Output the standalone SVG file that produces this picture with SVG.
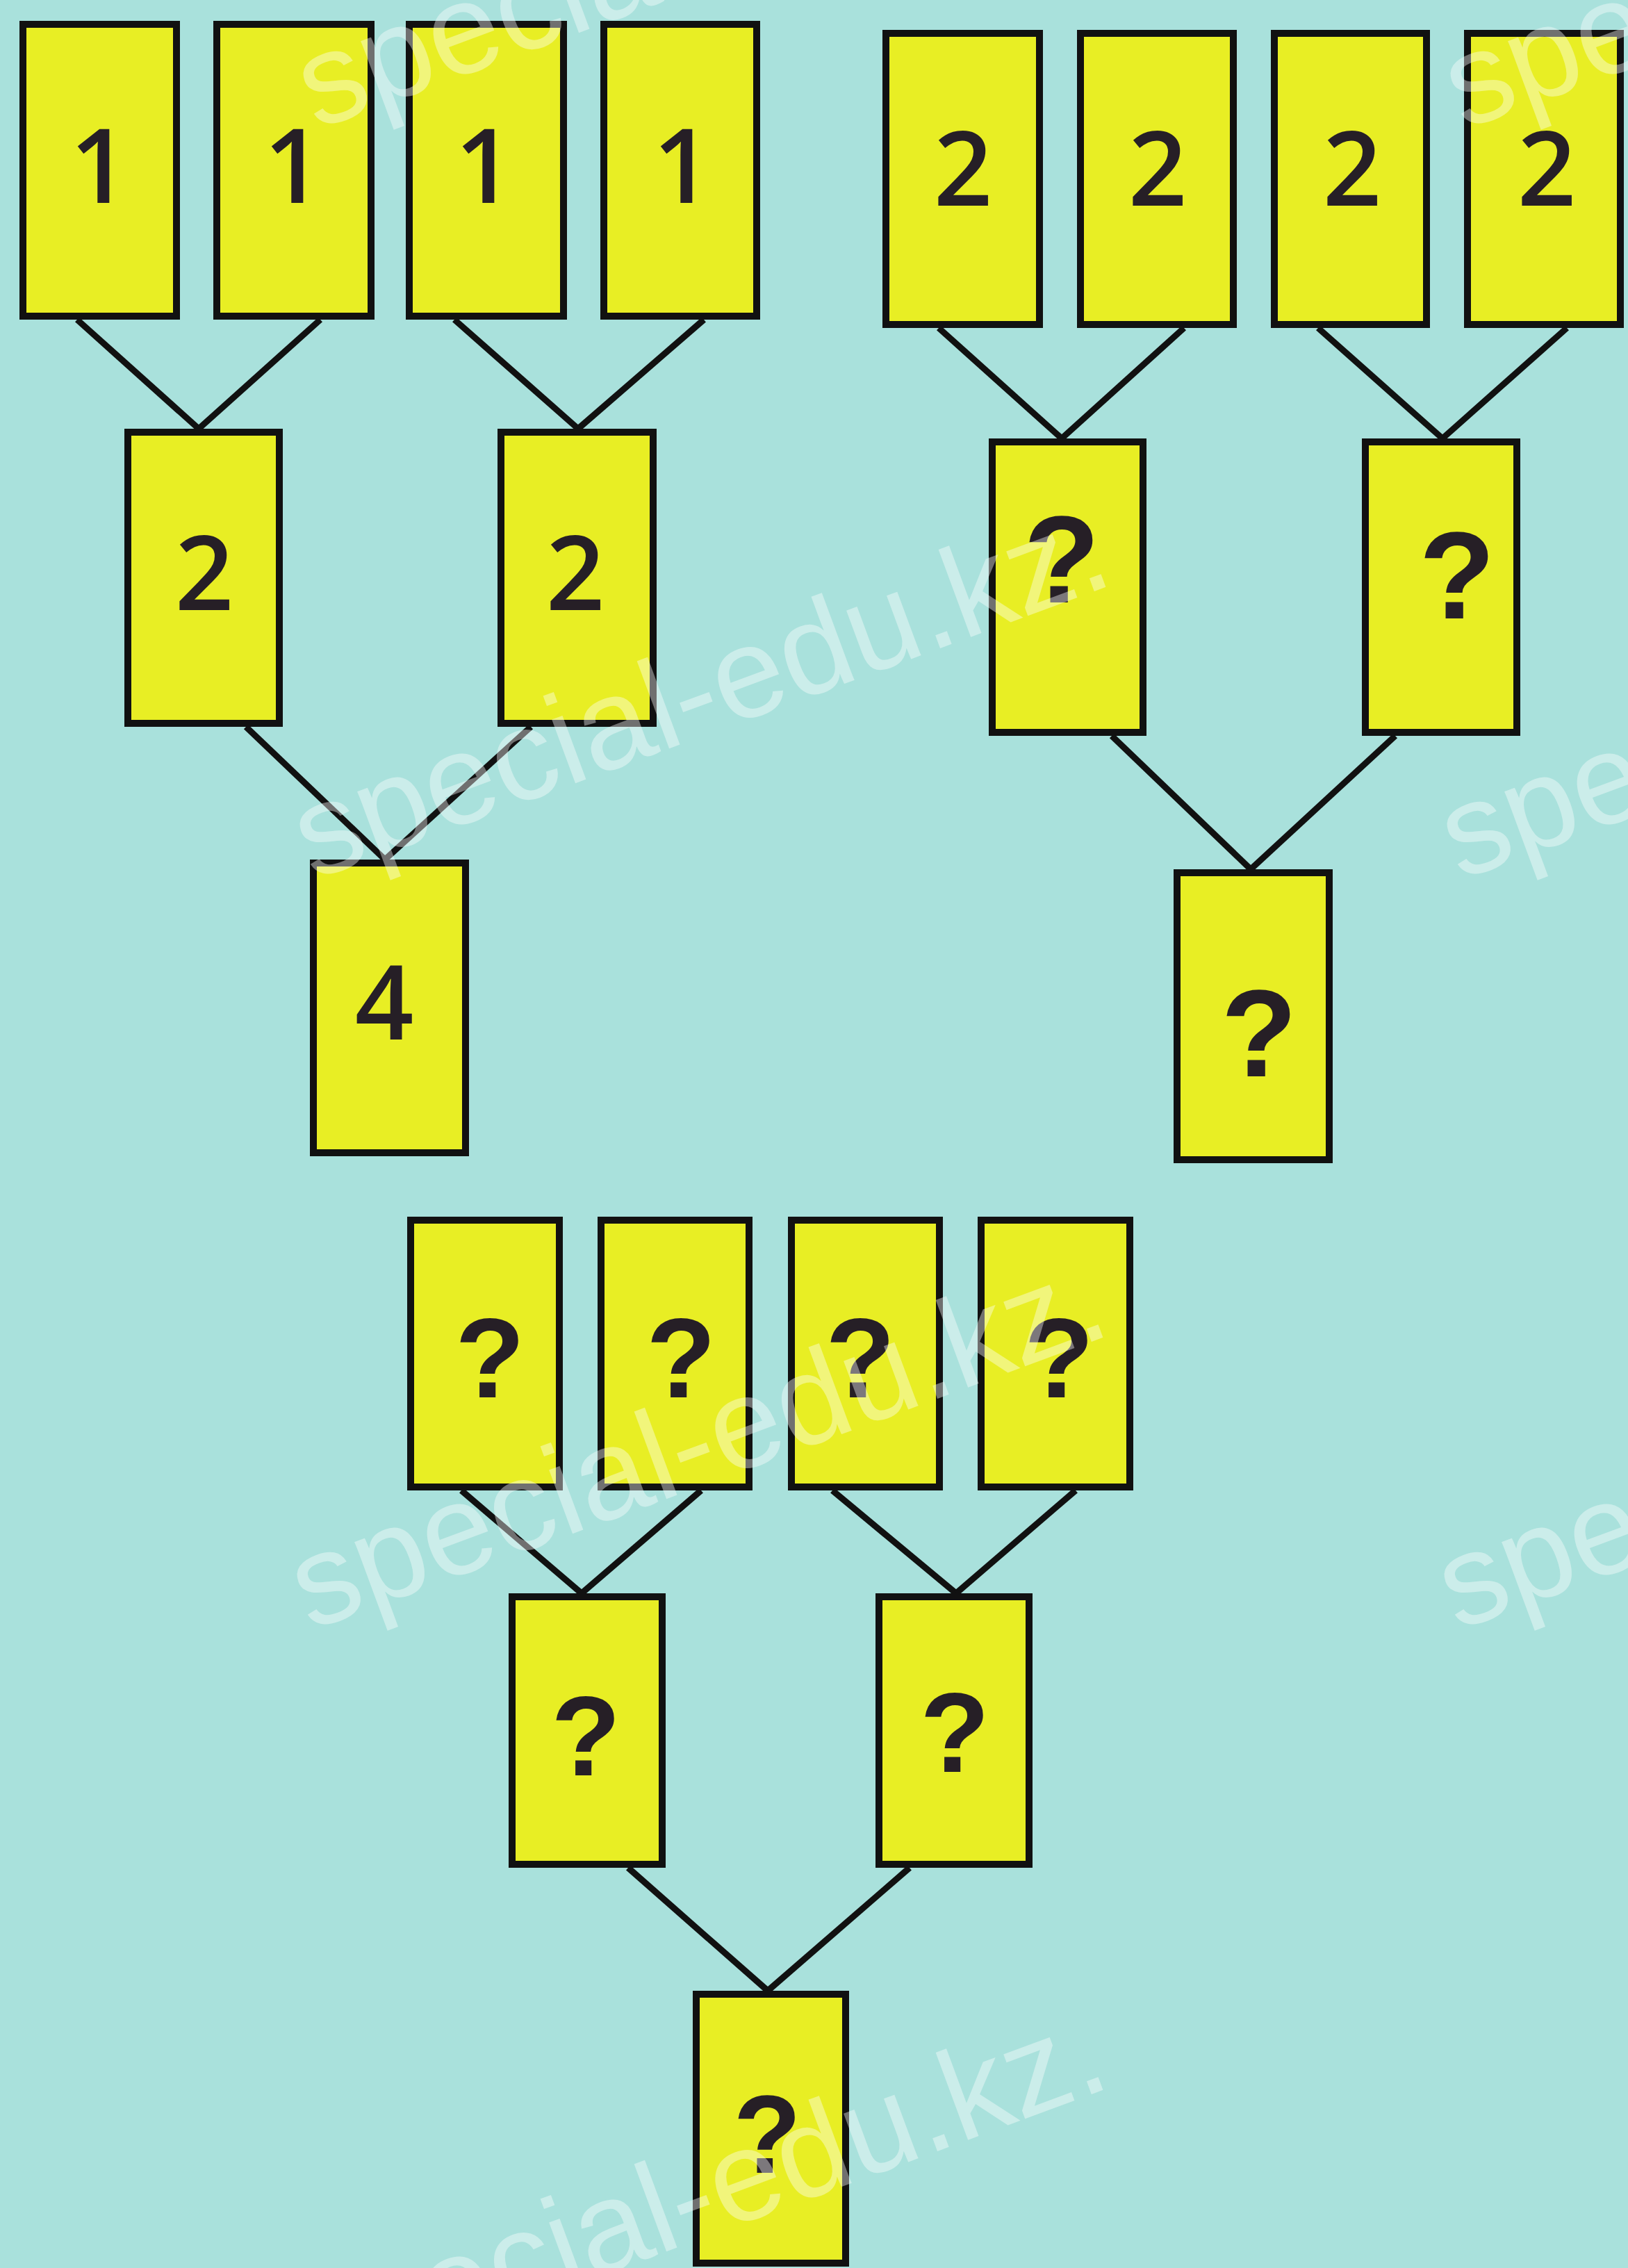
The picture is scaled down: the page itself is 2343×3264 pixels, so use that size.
<svg xmlns="http://www.w3.org/2000/svg" width="2343" height="3264" viewBox="0 0 2343 3264">
<style>
.bg{fill:#a9e1dc}
.box{fill:#e8ee24;stroke:#111;stroke-width:10}
.ln{stroke:#111;stroke-width:9;fill:none;stroke-linecap:butt}
.d{font-family:"Open Sans","Noto Sans",sans-serif;font-weight:600;font-size:148px;fill:#261f26;text-anchor:middle}
.q{font-family:"Liberation Sans",Arial,sans-serif;font-weight:700;fill:#261f26;text-anchor:middle}
.wm{font-family:"Liberation Sans",Arial,sans-serif;font-size:185px;fill:#ffffff;fill-opacity:0.4}
</style>
<rect class="bg" x="0" y="0" width="2343" height="3264"/>
<g id="connectors">
<line class="ln" x1="111" y1="460" x2="286" y2="617"/>
<line class="ln" x1="461" y1="460" x2="286" y2="617"/>
<line class="ln" x1="654" y1="460" x2="832" y2="617"/>
<line class="ln" x1="1013" y1="460" x2="832" y2="617"/>
<line class="ln" x1="354" y1="1046" x2="554" y2="1237"/>
<line class="ln" x1="764" y1="1046" x2="554" y2="1237"/>
<line class="ln" x1="1351" y1="472" x2="1528" y2="631"/>
<line class="ln" x1="1704" y1="472" x2="1528" y2="631"/>
<line class="ln" x1="1897" y1="472" x2="2076" y2="631"/>
<line class="ln" x1="2255" y1="472" x2="2076" y2="631"/>
<line class="ln" x1="1600" y1="1059" x2="1800" y2="1251"/>
<line class="ln" x1="2008" y1="1059" x2="1800" y2="1251"/>
<line class="ln" x1="664" y1="2145" x2="837" y2="2293"/>
<line class="ln" x1="1009" y1="2145" x2="837" y2="2293"/>
<line class="ln" x1="1198" y1="2145" x2="1376" y2="2293"/>
<line class="ln" x1="1548" y1="2145" x2="1376" y2="2293"/>
<line class="ln" x1="904" y1="2688" x2="1105" y2="2865"/>
<line class="ln" x1="1309" y1="2688" x2="1105" y2="2865"/>
</g>
<g id="A1"><rect class="box" x="33" y="35" width="221" height="420"/><text class="d" x="143" y="292">1</text></g>
<g id="A2"><rect class="box" x="312" y="35" width="222" height="420"/><text class="d" x="422" y="292">1</text></g>
<g id="A3"><rect class="box" x="589" y="35" width="222" height="420"/><text class="d" x="697" y="292">1</text></g>
<g id="A4"><rect class="box" x="869" y="35" width="220" height="420"/><text class="d" x="982" y="292">1</text></g>
<g id="B1"><rect class="box" x="184" y="622" width="218" height="419"/><text class="d" x="294" y="878">2</text></g>
<g id="B2"><rect class="box" x="721" y="622" width="219" height="419"/><text class="d" x="828" y="878">2</text></g>
<g id="C"><rect class="box" x="451" y="1242" width="219" height="417"/><text class="d" x="553" y="1496">4</text></g>
<g id="D1"><rect class="box" x="1275" y="48" width="221" height="419"/><text class="d" x="1386" y="296">2</text></g>
<g id="D2"><rect class="box" x="1555" y="48" width="220" height="419"/><text class="d" x="1666" y="296">2</text></g>
<g id="D3"><rect class="box" x="1834" y="48" width="219" height="419"/><text class="d" x="1946" y="296">2</text></g>
<g id="D4"><rect class="box" x="2112" y="48" width="220" height="419"/><text class="d" x="2226" y="296">2</text></g>
<g id="E1"><rect class="box" x="1428" y="636" width="217" height="418"/><text class="q" font-size="179" x="1528" y="867">?</text></g>
<g id="E2"><rect class="box" x="1965" y="636" width="218" height="418"/><text class="q" font-size="179" x="2097" y="890">?</text></g>
<g id="F"><rect class="box" x="1694" y="1256" width="219" height="413"/><text class="q" font-size="179" x="1812" y="1549">?</text></g>
<g id="G1"><rect class="box" x="591" y="1756" width="214" height="384"/><text class="q" font-size="164" x="705" y="2011">?</text></g>
<g id="G2"><rect class="box" x="865" y="1756" width="213" height="384"/><text class="q" font-size="164" x="980" y="2011">?</text></g>
<g id="G3"><rect class="box" x="1139" y="1756" width="213" height="384"/><text class="q" font-size="164" x="1238" y="2011">?</text></g>
<g id="G4"><rect class="box" x="1412" y="1756" width="214" height="384"/><text class="q" font-size="164" x="1524" y="2011">?</text></g>
<g id="H1"><rect class="box" x="737" y="2298" width="216" height="385"/><text class="q" font-size="164" x="843" y="2555">?</text></g>
<g id="H2"><rect class="box" x="1265" y="2298" width="216" height="385"/><text class="q" font-size="164" x="1374" y="2550">?</text></g>
<g id="I"><rect class="box" x="1002" y="2870" width="215" height="387"/><text class="q" font-size="160" x="1104" y="3127">?</text></g>
<g id="watermark" class="wm">
<text transform="translate(455 187) rotate(-20.3)">special-edu.kz.</text>
<text transform="translate(2106 187) rotate(-20.3)">special-edu.kz.</text>
<text transform="translate(450 1267) rotate(-20.3)">special-edu.kz.</text>
<text transform="translate(2101 1267) rotate(-20.3)">special-edu.kz.</text>
<text transform="translate(446 2347) rotate(-20.3)">special-edu.kz.</text>
<text transform="translate(2097 2347) rotate(-20.3)">special-edu.kz.</text>
<text transform="translate(446 3430) rotate(-20.3)">special-edu.kz.</text>
</g>
</svg>
